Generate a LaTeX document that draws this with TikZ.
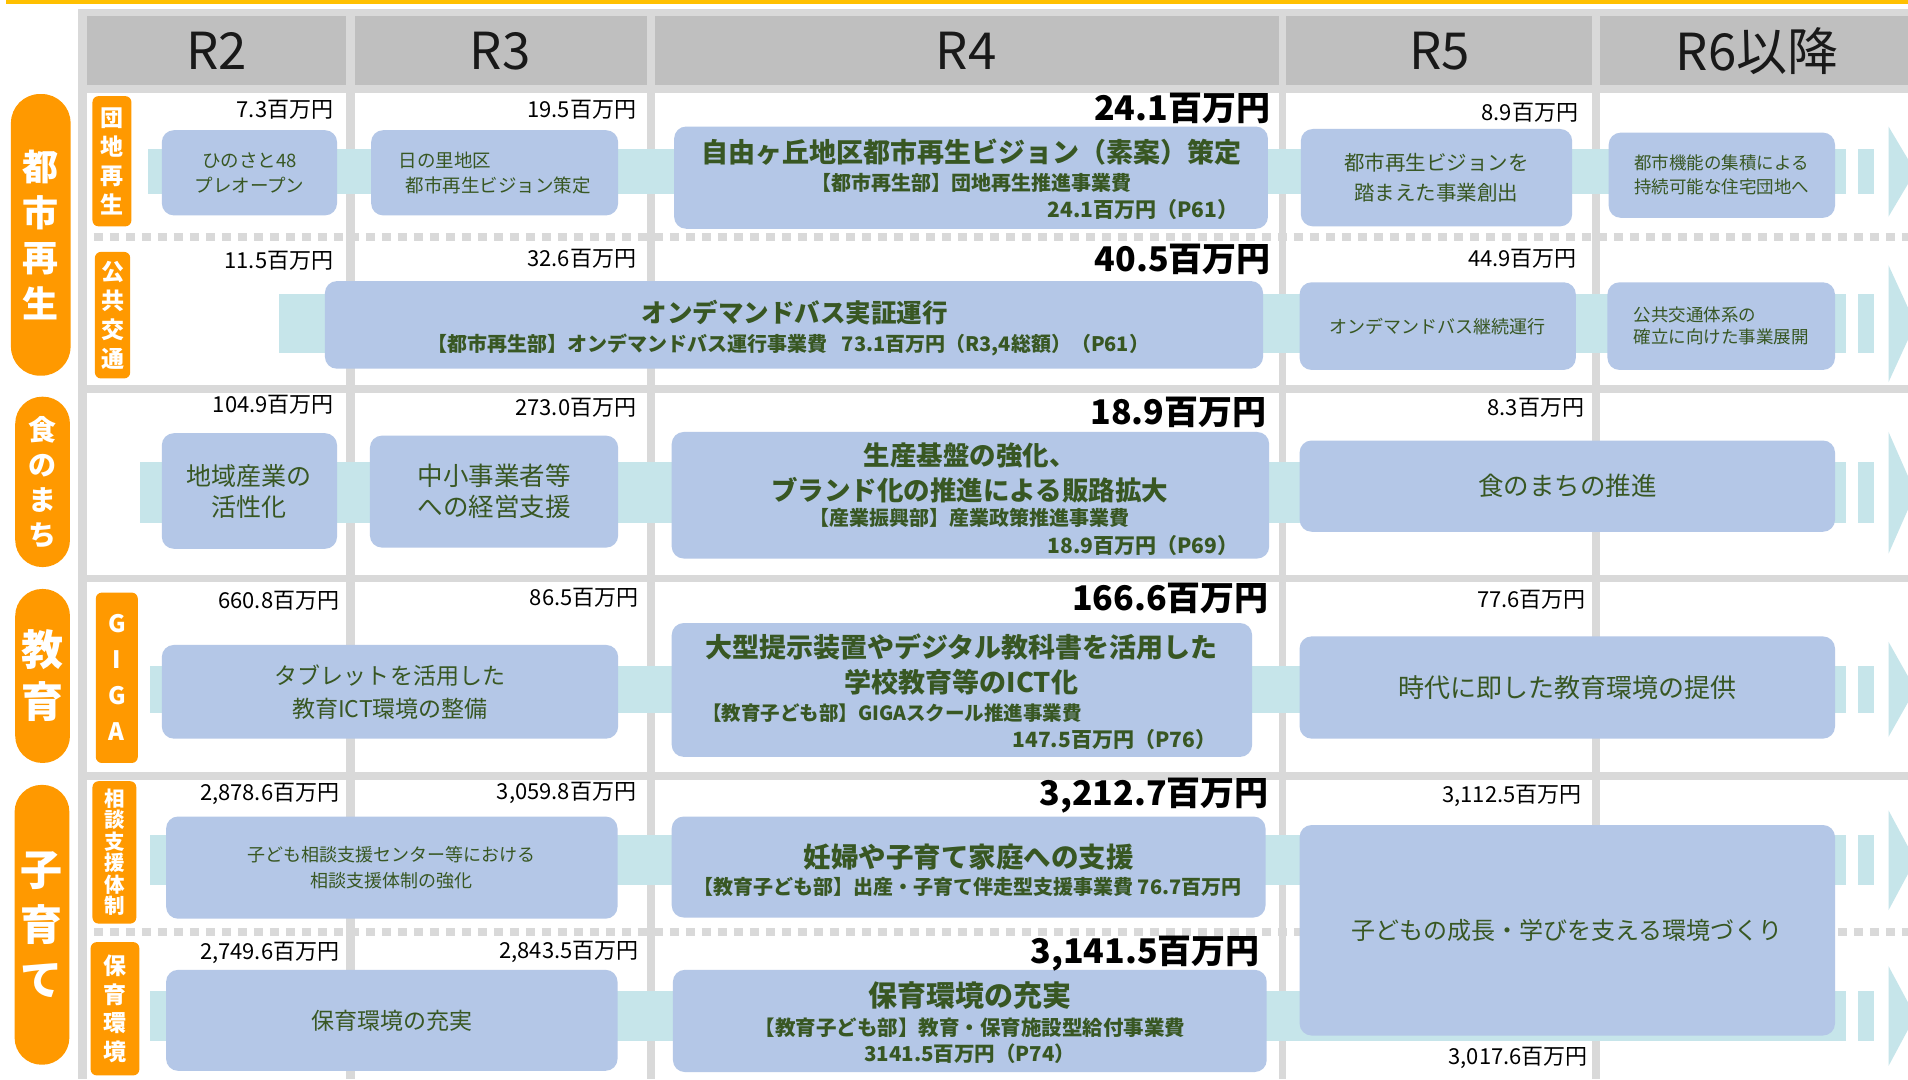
\documentclass[tikz,border=0pt]{standalone}
\usepackage{fontspec}
\setmainfont{Noto Sans CJK JP}
\definecolor{gridgray}{RGB}{217,217,217}
\definecolor{headgray}{RGB}{191,191,191}
\definecolor{boxblue}{RGB}{180,199,231}
\definecolor{bandcyan}{RGB}{198,229,234}
\definecolor{catorange}{RGB}{255,153,0}
\definecolor{topgold}{RGB}{255,192,0}
\definecolor{txtgreen}{RGB}{56,87,35}
\newcommand{\upx}{1.2168pt}
\newcommand{\fsz}[2]{\fontsize{#1}{#2}\selectfont}

\begin{document}
\begin{tikzpicture}[x=1.2168pt,y=-1.2168pt,
    box/.style={fill=boxblue,rounded corners=12pt,inner sep=0pt,text=txtgreen,align=center},
    boxtxt/.style={inner sep=0pt,text=txtgreen,align=center},
    amt/.style={anchor=east,inner sep=0pt,font=\fsz{22}{26}},
    amtbig/.style={anchor=east,inner sep=0pt,font=\fsz{34}{38}\bfseries},
    year/.style={inner sep=0pt,text=black!90,font=\fsz{51}{54}}]
    \tikzstyle{cat}=[fill=catorange,text=white,inner sep=0pt,align=center,rounded corners=27pt]
    \tikzstyle{sub}=[fill=catorange,text=white,inner sep=0pt,align=center,rounded corners=6pt]

    \useasboundingbox (0,0) rectangle (1568,887);
    \clip (0,0) rectangle (1568,887);

    % grid
    \fill[topgold] (5,0) rectangle (1568,3.5);
    \fill[gridgray] (64,7) rectangle (1568,887);
    \foreach \xa/\xb in {71.5/284.5, 291.5/532, 538/1051, 1057/1308.5, 1315/1568}{
      \fill[headgray] (\xa,13) rectangle (\xb,70);
      \foreach \ya/\yb in {76.5/316, 323/472.5, 478/634.5, 641/887}
        \fill[white] (\xa,\ya) rectangle (\xb,\yb);
    }
    \draw[gridgray,line width=8pt,dash pattern=on 9pt off 7pt] (64,195) -- (1568,195);
    \draw[gridgray,line width=8pt,dash pattern=on 9pt off 7pt] (64,766) -- (1568,766);

    % bands
    \foreach \yc/\hh/\xs in {141/18.5/122, 266/24/229, 405/25/115, 566.5/19.5/123, 707/20.5/123, 835/20.5/123}{
      \fill[bandcyan] (\xs,\yc-\hh) rectangle (1517,\yc+\hh);
      \fill[bandcyan] (1527,\yc-\hh) rectangle (1540,\yc+\hh);
      \fill[bandcyan] (1552,\yc-2*\hh) -- (1574,\yc) -- (1552,\yc+2*\hh) -- cycle;
    }

    % header
    \node[year] (r2) at (178,42) {R2};
    \node[year] (r3) at (411,42) {R3};
    \node[year] (r4) at (794,42) {R4};
    \node[year] (r5) at (1183,42) {R5};
    \node[year] (r6) at (1444,42) {R6以降};

    % 都市再生
    \node[cat,minimum width=49*\upx,minimum height=231.5*\upx,rounded corners=29pt,font=\fsz{36}{45.6}\bfseries] (toshi) at (33.5,193) {都\\市\\再\\生};
    \node[sub,minimum width=32*\upx,minimum height=107*\upx,font=\fsz{23}{29}\bfseries] (danchi) at (92,132.5) {団\\地\\再\\生};
    \node[sub,minimum width=29*\upx,minimum height=104*\upx,font=\fsz{23}{29}\bfseries] (koukyou) at (92.5,259) {公\\共\\交\\通};

    \node[box,minimum width=144*\upx,minimum height=70*\upx,font=\fsz{18.5}{25.5}] (hinosato) at (205,142) {ひのさと48\\プレオープン};
    \node[box,minimum width=203*\upx,minimum height=70*\upx,font=\fsz{18.5}{25.5},align=left] (hinosatoPlan) at (406.5,142) {日の里地区\\\hspace*{7pt}都市再生ビジョン策定};
    \node[box,minimum width=488*\upx,minimum height=84*\upx] (jiyu) at (798,146) {};
    \node[boxtxt,font=\fsz{27}{30}\bfseries] at (798,125) {自由ヶ丘地区都市再生ビジョン（素案）策定};
    \node[boxtxt,font=\fsz{20}{24}\bfseries] at (798,150) {【都市再生部】団地再生推進事業費};
    \node[boxtxt,anchor=east,font=\fsz{21}{24}\bfseries] at (1018,172) {24.1百万円（P61）};
    \node[box,minimum width=223*\upx,minimum height=80*\upx,font=\fsz{20.5}{30}] (souzou) at (1180.5,146) {都市再生ビジョンを\\踏まえた事業創出};
    \node[box,minimum width=186*\upx,minimum height=70*\upx,font=\fsz{17.5}{24},align=left] (danchiFuture) at (1415,144) {都市機能の集積による\\持続可能な住宅団地へ};

    \node[amt] at (274,90) {7.3百万円};
    \node[amt] at (523,90) {19.5百万円};
    \node[amtbig] at (1044,89) {24.1百万円};
    \node[amt] at (1297,93) {8.9百万円};

    \node[box,minimum width=771*\upx,minimum height=72*\upx] (busTrial) at (652.5,267) {};
    \node[boxtxt,font=\fsz{25.5}{28}\bfseries] at (653,257) {オンデマンドバス実証運行};
    \node[boxtxt,font=\fsz{20}{24}\bfseries] at (648,283.5) {【都市再生部】オンデマンドバス運行事業費\hspace{0.7em}73.1百万円（R3,4総額）（P61）};
    \node[box,minimum width=227*\upx,minimum height=72*\upx,font=\fsz{18}{22}] (busCont) at (1181.5,268) {オンデマンドバス継続運行};
    \node[box,minimum width=187*\upx,minimum height=72*\upx,font=\fsz{17.5}{22},align=left] (transitNet) at (1414.5,268) {公共交通体系の\\確立に向けた事業展開};

    \node[amt] at (274,214) {11.5百万円};
    \node[amt] at (523,212.5) {32.6百万円};
    \node[amtbig] at (1044.5,213.5) {40.5百万円};
    \node[amt] at (1296,213) {44.9百万円};

    % 食のまち
    \node[cat,minimum width=45*\upx,minimum height=140*\upx,font=\fsz{28}{35}\bfseries] (shoku) at (35,396) {食\\の\\ま\\ち};
    \node[box,minimum width=144*\upx,minimum height=95*\upx,font=\fsz{25}{31}] (chiiki) at (205,403.5) {地域産業の\\活性化};
    \node[box,minimum width=204*\upx,minimum height=92*\upx,font=\fsz{25.5}{31}] (chusho) at (406,404) {中小事業者等\\への経営支援};
    \node[box,minimum width=491*\upx,minimum height=104*\upx] (seisan) at (797.5,407) {};
    \node[boxtxt,font=\fsz{26.5}{35}\bfseries] at (797,388.5) {生産基盤の強化、\\ブランド化の推進による販路拡大};
    \node[boxtxt,font=\fsz{20}{24}\bfseries] at (797,425.5) {【産業振興部】産業政策推進事業費};
    \node[boxtxt,anchor=east,font=\fsz{21}{24}\bfseries] at (1018,448) {18.9百万円（P69）};
    \node[box,minimum width=440*\upx,minimum height=75*\upx,font=\fsz{25.5}{30}] (shokuSuishin) at (1288,399.5) {食のまちの推進};

    \node[amt] at (274.5,333) {104.9百万円};
    \node[amt] at (523,335) {273.0百万円};
    \node[amtbig] at (1041,338.5) {18.9百万円};
    \node[amt] at (1302,335) {8.3百万円};

    % 教育
    \node[cat,minimum width=45*\upx,minimum height=143*\upx,font=\fsz{42}{52}\bfseries] (kyouiku) at (35,555.5) {教\\育};
    \node[sub,minimum width=34.5*\upx,minimum height=140*\upx,font=\fsz{24}{36}\bfseries] (giga) at (96,557) {G\\I\\G\\A};
    \node[box,minimum width=375*\upx,minimum height=77*\upx,font=\fsz{23}{33}] (tablet) at (320.5,568.5) {タブレットを活用した\\教育ICT環境の整備};
    \node[box,minimum width=477*\upx,minimum height=110*\upx] (ictSchool) at (790.5,567) {};
    \node[boxtxt,font=\fsz{27}{35}\bfseries] at (790,546) {大型提示装置やデジタル教科書を活用した\\学校教育等のICT化};
    \node[boxtxt,anchor=west,font=\fsz{19.5}{24}\bfseries] at (577,586) {【教育子ども部】GIGAスクール推進事業費};
    \node[boxtxt,anchor=east,font=\fsz{21}{24}\bfseries] at (999.5,608) {147.5百万円（P76）};
    \node[box,minimum width=440*\upx,minimum height=84*\upx,font=\fsz{26}{30}] (jidai) at (1288,565) {時代に即した教育環境の提供};

    \node[amt] at (279,494) {660.8百万円};
    \node[amt] at (525,491) {86.5百万円};
    \node[amtbig] at (1043,491.5) {166.6百万円};
    \node[amt] at (1303.5,492.5) {77.6百万円};

    % 子育て
    \node[cat,minimum width=45*\upx,minimum height=230*\upx,font=\fsz{42}{55}\bfseries] (kosodate) at (34.5,760) {子\\育\\て};
    \node[sub,minimum width=36*\upx,minimum height=117*\upx,font=\fsz{20.5}{21.5}\bfseries] (soudan) at (94,700.5) {相\\談\\支\\援\\体\\制};
    \node[sub,minimum width=40*\upx,minimum height=109.5*\upx,font=\fsz{23}{28.5}\bfseries] (hoiku) at (94.5,829) {保\\育\\環\\境};

    \node[box,minimum width=371*\upx,minimum height=84*\upx,font=\fsz{18}{25.5}] (kodomoSoudan) at (322,713) {子ども相談支援センター等における\\相談支援体制の強化};
    \node[box,minimum width=488*\upx,minimum height=83*\upx] (ninpu) at (796,712.5) {};
    \node[boxtxt,font=\fsz{27.5}{30}\bfseries] at (796,704) {妊婦や子育て家庭への支援};
    \node[boxtxt,font=\fsz{20}{24}\bfseries] at (795,729) {【教育子ども部】出産・子育て伴走型支援事業費 76.7百万円};
    \node[box,minimum width=371*\upx,minimum height=83*\upx,font=\fsz{23}{28}] (hoikuJuujitsu) at (322,838.5) {保育環境の充実};
    \node[box,minimum width=488*\upx,minimum height=84*\upx] (hoikuShisetsu) at (797,839) {};
    \node[boxtxt,font=\fsz{29}{32}\bfseries] at (797,818) {保育環境の充実};
    \node[boxtxt,font=\fsz{20.5}{26}\bfseries] at (797,855) {【教育子ども部】教育・保育施設型給付事業費\\3141.5百万円（P74）};
    \node[box,minimum width=440*\upx,minimum height=173*\upx,font=\fsz{24}{28}] (seichou) at (1288,764.5) {子どもの成長・学びを支える環境づくり};

    \node[amt] at (279,652.5) {2,878.6百万円};
    \node[amt] at (523,652) {3,059.8百万円};
    \node[amtbig] at (1043,653.5) {3,212.7百万円};
    \node[amt] at (1300,654) {3,112.5百万円};
    \node[amt] at (279,783) {2,749.6百万円};
    \node[amt] at (525,782.5) {2,843.5百万円};
    \node[amtbig] at (1035.5,784) {3,141.5百万円};
    \node[amt] at (1305,869.5) {3,017.6百万円};
\end{tikzpicture}
\end{document}
